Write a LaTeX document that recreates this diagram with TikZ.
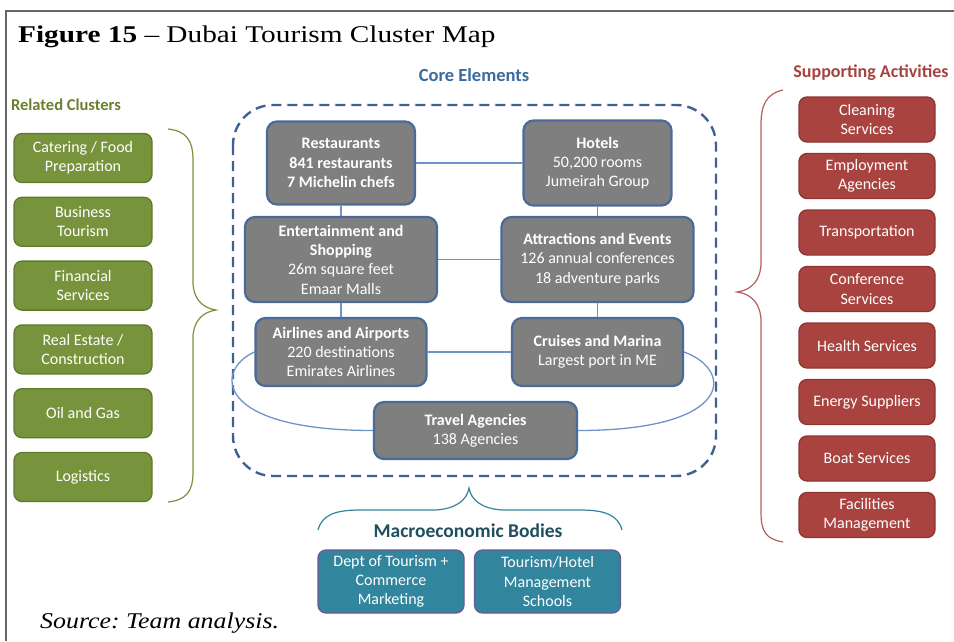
\documentclass[tikz,border=0pt]{standalone}
\usepackage{fontspec}
\setmainfont{Liberation Serif}
\newfontfamily\carl{Carlito}
\frenchspacing
\definecolor{gfill}{HTML}{77933C}
\definecolor{gborder}{HTML}{5F7A2E}
\definecolor{rfill}{HTML}{A8433F}
\definecolor{rborder}{HTML}{8E3431}
\definecolor{cfill}{HTML}{7F7F7F}
\definecolor{cborder}{HTML}{4A6B99}
\definecolor{tfill}{HTML}{31859C}
\definecolor{tborder}{HTML}{6A5A92}
\definecolor{linkcol}{HTML}{6F93C6}
\definecolor{dashcol}{HTML}{3D6192}
\definecolor{coreblue}{HTML}{3A6A9E}
\definecolor{redhead}{HTML}{A5433F}
\definecolor{greenhead}{HTML}{6B7F2E}
\definecolor{macrohead}{HTML}{1F4E5F}
\definecolor{framecol}{HTML}{666666}
\newcommand{\boxfont}{\carl\fontsize{16}{19.3}\selectfont}
\newcommand{\headfont}{\carl\bfseries\fontsize{18}{20}\selectfont}
\tikzset{
  basebox/.style={rounded corners=8pt, text=white, align=center, font=\boxfont, inner sep=0pt},
  gbox/.style={basebox, draw=gborder, fill=gfill, line width=1.3pt, minimum width=138pt, minimum height=49pt},
  rbox/.style={basebox, draw=rborder, fill=rfill, line width=1.3pt, minimum width=136pt, minimum height=45pt},
  cbox/.style={basebox, draw=cborder, fill=cfill, line width=2.2pt, rounded corners=10pt},
  tbox/.style={basebox, draw=tborder, fill=tfill, line width=1.3pt, minimum width=146pt, minimum height=63pt},
  link/.style={draw=linkcol, line width=1.3pt},
  heading/.style={font=\headfont, inner sep=0pt},
  bracegreen/.style={draw=gfill, line width=1.2pt},
  bracered/.style={draw=rfill!85, line width=1.2pt},
  braceteal/.style={draw=tfill, line width=1.2pt},
}
\begin{document}
\begin{tikzpicture}[x=1pt,y=-1pt]
\useasboundingbox (0,0) rectangle (954,641);
\draw[framecol, line width=1.5pt] (954,11) -- (6,11) -- (6,641);

\node[anchor=base west, inner sep=0pt] (title) at (18,42.5)
  {\scalebox{1.22}[1]{\fontsize{24}{28}\selectfont\textbf{Figure 15} -- Dubai Tourism Cluster Map}};

\node[heading, text=coreblue, font=\carl\bfseries\fontsize{18.5}{20}\selectfont] (hcore) at (474,75) {Core Elements};
\node[heading, text=redhead] (hsupp) at (871,73) {Supporting Activities};
\node[heading, text=greenhead, font=\carl\bfseries\fontsize{16.5}{20}\selectfont] (hrel) at (66,105) {Related Clusters};
\node[heading, text=macrohead, font=\carl\bfseries\fontsize{19.5}{22}\selectfont] (hmac) at (468,531) {Macroeconomic Bodies};

% related clusters
\node[gbox] (g1) at (83,158) {Catering / Food\\Preparation};
\node[gbox] (g2) at (83,221.8) {Business\\Tourism};
\node[gbox] (g3) at (83,285.6) {Financial\\Services};
\node[gbox] (g4) at (83,349.4) {Real Estate /\\Construction};
\node[gbox] (g5) at (83,413.2) {Oil and Gas};
\node[gbox] (g6) at (83,477) {Logistics};

% supporting activities
\node[rbox] (r1) at (867,119.5) {Cleaning\\Services};
\node[rbox] (r2) at (867,176) {Employment\\Agencies};
\node[rbox] (r3) at (867,232.5) {Transportation};
\node[rbox] (r4) at (867,289) {Conference\\Services};
\node[rbox] (r5) at (867,345.5) {Health Services};
\node[rbox] (r6) at (867,402) {Energy Suppliers};
\node[rbox] (r7) at (867,458.5) {Boat Services};
\node[rbox] (r8) at (867,515) {Facilities\\Management};

% core dashed frame
\draw[dashcol, line width=2.4pt, dash pattern=on 10pt off 6pt, rounded corners=40pt] (233,105) rectangle (716,476);

% core elements
\node[cbox, minimum width=148pt, minimum height=83pt] (rest) at (341,163)
  {\textbf{Restaurants}\\\textbf{841 restaurants}\\\textbf{7 Michelin chefs}};
\node[cbox, minimum width=148pt, minimum height=85pt] (hotel) at (597.5,163)
  {\textbf{Hotels}\\50,200 rooms\\Jumeirah Group};
\node[cbox, minimum width=192pt, minimum height=85pt] (ent) at (341,259.5)
  {\textbf{Entertainment and}\\\textbf{Shopping}\\26m square feet\\Emaar Malls};
\node[cbox, minimum width=192pt, minimum height=85pt] (attr) at (597.5,259.5)
  {\textbf{Attractions and Events}\\126 annual conferences\\18 adventure parks};
\node[cbox, minimum width=171pt, minimum height=68pt] (air) at (341,352)
  {\textbf{Airlines and Airports}\\220 destinations\\Emirates Airlines};
\node[cbox, minimum width=171pt, minimum height=68pt] (cruise) at (597.5,352)
  {\textbf{Cruises and Marina}\\Largest port in ME};
\node[cbox, minimum width=203pt, minimum height=57pt] (travel) at (475.5,430.5)
  {\textbf{Travel Agencies}\\138 Agencies};

% links
\draw[link] (rest.east) -- (hotel.west);
\draw[link] (rest.south) -- (ent.north);
\draw[link] (hotel.south) -- (attr.north);
\draw[link] (ent.east) -- (attr.west);
\draw[link] (ent.south) -- (air.north);
\draw[link] (attr.south) -- (cruise.north);
\draw[link] (air.east) -- (cruise.west);
\draw[link] (air.west) .. controls +(-40,18) and +(-159,0) .. (travel.west);
\draw[link] (cruise.east) .. controls +(50,18) and +(156,0) .. (travel.east);

% braces
\draw[bracegreen] (168,129) .. controls (186,131) and (193,140) .. (193,160) -- (193,282)
  .. controls (193,298) and (202,308) .. (216,310)
  .. controls (202,312) and (193,322) .. (193,338) -- (193,472)
  .. controls (193,492) and (186,500) .. (168,502);
\draw[bracered] (783,90) .. controls (766,94) and (761,105) .. (761,125) -- (761,262)
  .. controls (761,280) and (752,290) .. (737,292)
  .. controls (752,294) and (761,304) .. (761,322) -- (761,512)
  .. controls (761,532) and (766,539) .. (783,542);
\draw[braceteal] (318,530) .. controls (322,515) and (335,510) .. (360,510) -- (435,510)
  .. controls (456,509) and (467,500) .. (469,488)
  .. controls (471,500) and (482,509) .. (503,510) -- (580,510)
  .. controls (605,510) and (618,515) .. (622,530);

% macroeconomic bodies
\node[tbox] (m1) at (391,581.5) {Dept of Tourism +\\Commerce\\Marketing};
\node[tbox] (m2) at (547.5,581.5) {Tourism/Hotel\\Management\\Schools};

\node[anchor=base west, inner sep=0pt] (src) at (40,628)
  {\scalebox{1.15}[1]{\fontsize{22.5}{26}\selectfont\itshape Source: Team analysis.}};
\end{tikzpicture}
\end{document}
